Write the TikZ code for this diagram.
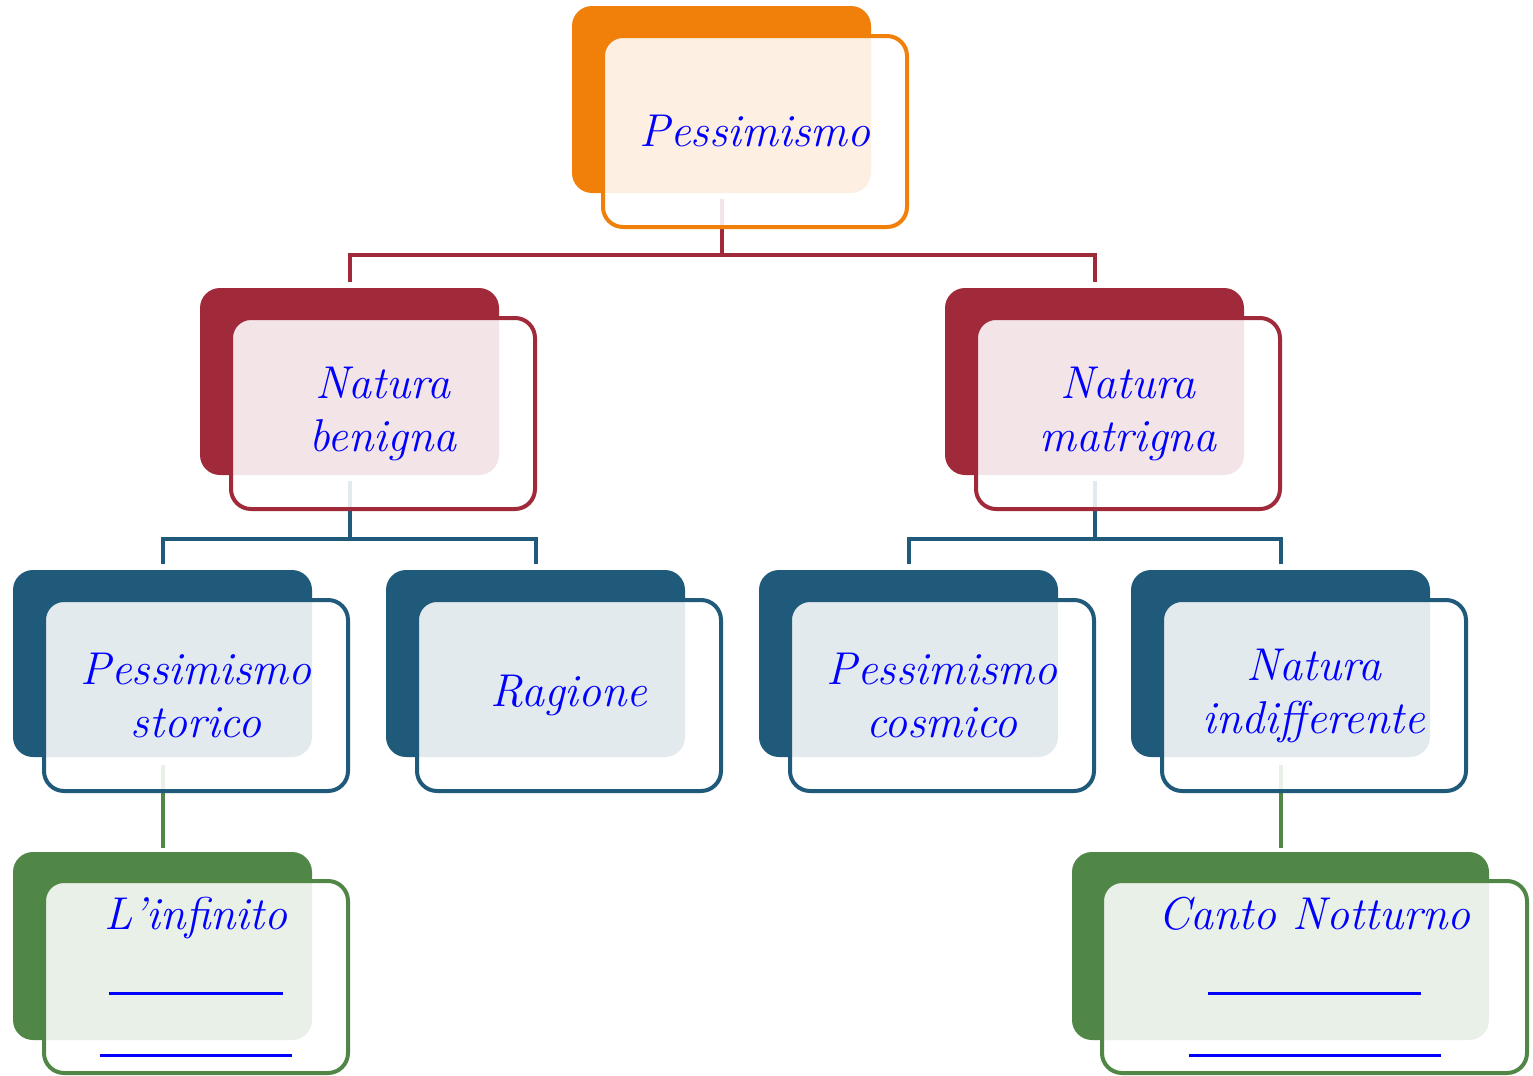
\documentclass[tikz,border=0pt]{standalone}
\usetikzlibrary{backgrounds}
\definecolor{orangec}{RGB}{240,128,10}
\definecolor{redc}{RGB}{160,41,58}
\definecolor{bluec}{RGB}{31,90,122}
\definecolor{greenc}{RGB}{80,135,70}
\tikzset{
  backbox/.style={fill=#1, rounded corners=10pt, minimum width=149.5pt, minimum height=93.5pt, inner sep=0pt},
  cardbox/.style={draw=#1, line width=2pt, fill=white, fill opacity=0.88, text opacity=1, text=blue,
    rounded corners=10pt, minimum width=152pt, minimum height=95.5pt, inner sep=0pt, align=center,
    font=\fontsize{23}{26.5}\selectfont\itshape},
  link/.style={draw=#1, line width=2pt, shorten <=3pt, shorten >=3pt},
}
\begin{document}
\begin{tikzpicture}[x=0.5pt,y=-0.5pt]
    \useasboundingbox (0,0) rectangle (1533,1076);
    % root
    \node[backbox=orangec] (pess-b) at (721.5,99.5) {};
    \node[cardbox=orangec] (pess) at ([shift={(33.5,32)}]pess-b.center) {Pessimismo};
    % second level
    \node[backbox=redc] (benigna-b) at (349.5,381.5) {};
    \node[cardbox=redc] (benigna) at ([shift={(33.5,32)}]benigna-b.center) {Natura\\benigna};
    \node[backbox=redc] (matrigna-b) at (1094.5,381.5) {};
    \node[cardbox=redc] (matrigna) at ([shift={(33.5,32)}]matrigna-b.center) {Natura\\matrigna};
    % third level
    \node[backbox=bluec] (storico-b) at (162.5,663.5) {};
    \node[cardbox=bluec] (storico) at ([shift={(33.5,32)}]storico-b.center) {Pessimismo\\storico};
    \node[backbox=bluec] (ragione-b) at (535.5,663.5) {};
    \node[cardbox=bluec] (ragione) at ([shift={(33.5,32)}]ragione-b.center) {Ragione};
    \node[backbox=bluec] (cosmico-b) at (908.5,663.5) {};
    \node[cardbox=bluec] (cosmico) at ([shift={(33.5,32)}]cosmico-b.center) {Pessimismo\\cosmico};
    \node[backbox=bluec] (indiff-b) at (1280.5,663.5) {};
    \node[cardbox=bluec] (indiff) at ([shift={(33.5,32)}]indiff-b.center) {Natura\\indifferente};
    % fourth level
    \node[backbox=greenc, minimum height=94pt] (infinito-b) at (162.5,946) {};
    \node[cardbox=greenc, minimum height=96pt, font=\fontsize{23}{31}\selectfont\itshape] (infinito)
        at ([shift={(33.5,31)}]infinito-b.center) {L'infinito\\\rule[-1.5pt]{87.5pt}{1.5pt}\\\rule[-1.5pt]{96.5pt}{1.5pt}};
    \node[backbox=greenc, minimum height=94pt, minimum width=208.5pt] (canto-b) at (1280.5,946) {};
    \node[cardbox=greenc, minimum height=96pt, minimum width=212.5pt, font=\fontsize{23}{31}\selectfont\itshape] (canto)
        at ([shift={(34,31)}]canto-b.center) {Canto Notturno\\\rule[-1.5pt]{106.5pt}{1.5pt}\\\rule[-1.5pt]{126pt}{1.5pt}};
    % connectors
    \begin{scope}[on background layer]
        \draw[link=redc] (pess-b.south) -- ++(0,62) -| (benigna-b.north);
        \draw[link=redc] (pess-b.south) -- ++(0,62) -| (matrigna-b.north);
        \draw[link=bluec] (benigna-b.south) -- ++(0,64) -| (storico-b.north);
        \draw[link=bluec] (benigna-b.south) -- ++(0,64) -| (ragione-b.north);
        \draw[link=bluec] (matrigna-b.south) -- ++(0,64) -| (cosmico-b.north);
        \draw[link=bluec] (matrigna-b.south) -- ++(0,64) -| (indiff-b.north);
        \draw[link=greenc, shorten <=4pt, shorten >=2pt] (storico-b.south) -- (infinito-b.north);
        \draw[link=greenc, shorten <=4pt, shorten >=2pt] (indiff-b.south) -- (canto-b.north);
    \end{scope}
\end{tikzpicture}
\end{document}
